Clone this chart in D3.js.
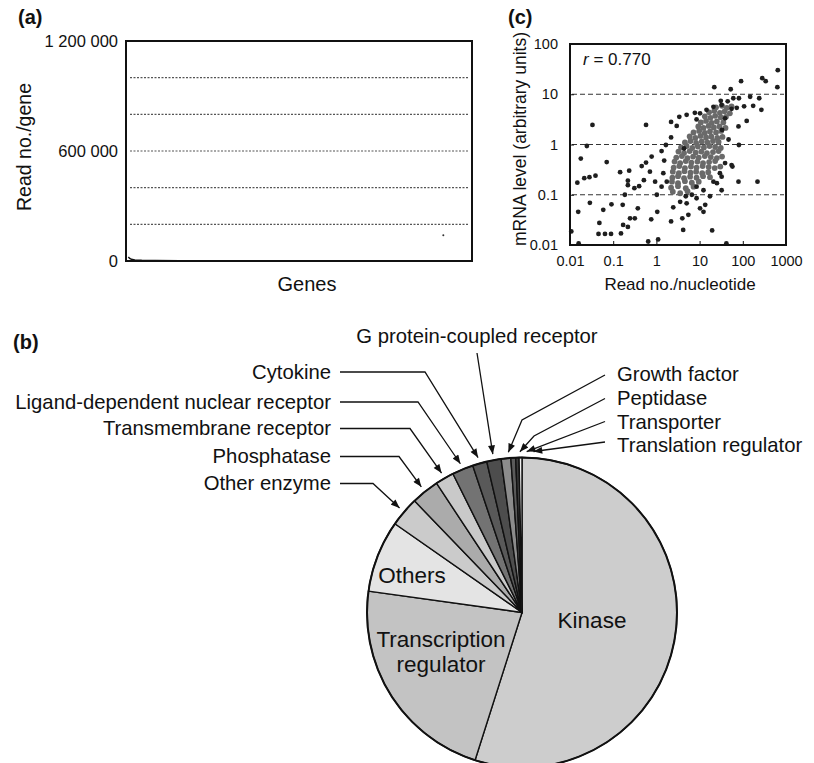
<!DOCTYPE html>
<html lang="en">
<head>
<meta charset="UTF-8">
<title>Reads per gene, gene categories and mRNA level</title>
<script src="https://d3js.org/d3.v7.min.js"></script>
<style>
  body { margin: 0; background: #fff; }
  svg { display: block; font-family: "Liberation Sans", Arial, Helvetica, sans-serif; }
</style>
</head>
<body>
<div id="chart"></div>
<script>
// ---------- data ----------
// (a) reads per gene, genes ranked by read number
const geneRank = [1, 5, 10, 20, 40, 80, 150, 300, 600, 1000];
const geneReads = [22000, 14000, 9000, 6000, 4000, 2500, 1500, 900, 500, 200];
const geneOutlier = [922, 140000];
const readTicks = [0, 600000, 1200000];
const readGrid = [200000, 400000, 600000, 800000, 1000000];

// (b) share of genes per category (%), clockwise from 12 o'clock
const categories = ["Kinase", "Transcription regulator", "Others", "Other enzyme", "Phosphatase",
  "Transmembrane receptor", "Ligand-dependent nuclear receptor", "Cytokine",
  "G protein-coupled receptor", "Growth factor", "Peptidase", "Transporter", "Translation regulator"];
const categoryShare = [54.9, 22.3, 7.5, 3.1, 2.9, 1.95, 2.2, 1.5, 1.5, 1.0, 0.5, 0.35, 0.3];
const categoryFill = ["#cdcdcd", "#c3c3c3", "#e4e4e4", "#cbcbcb", "#ababab", "#c9c9c9",
  "#737373", "#595959", "#4d4d4d", "#8c8c8c", "#5a5a5a", "#3a3a3a", "#f0f0f0"];

// (c) [log10 read no./nucleotide, log10 mRNA level]
const outlierLog10 = [[2.81,1.48],[2.80,1.14],[2.45,1.32],[2.53,1.26],[1.96,1.26],[2.43,0.69],[2.38,0.92],
  [2.17,0.95],[1.34,1.14],[1.72,1.10],[1.78,0.92],[1.91,0.92],[2.09,0.47],[1.90,0.36],[1.91,-0.01],
  [1.76,-0.44],[2.34,-0.74],[1.90,-0.74],[1.51,-0.91],[1.29,-1.71],[0.62,-1.70],[0.04,-1.89],[-0.19,-1.93],
  [-1.48,0.39],[-1.61,-0.03],[-1.75,-0.28],[-1.83,-0.76],[-1.67,-0.67],[-1.55,-0.65],[-1.41,-0.62],
  [-1.54,-1.16],[-1.81,-1.34],[-1.15,-0.35],[-0.84,-0.55],[-0.63,-0.52],[-1.04,-1.19],[-1.23,-1.30],
  [-1.32,-1.56],[-1.34,-1.78],[-1.19,-1.78],[-1.05,-1.78],[-0.82,-1.77],[-0.77,-1.60],[-0.66,-1.64],
  [-0.61,-1.47],[-0.50,-1.47],[-0.43,-1.27],[-0.78,-1.20],[-0.73,-1.00],[-0.66,-0.81],[-0.66,-0.72],
  [-0.51,-0.87],[-0.40,-0.83],[-0.29,-0.71],[-0.34,-0.43],[-0.24,-0.36],[-0.11,-0.24],[-0.24,0.39],
  [-0.15,-0.54],[-0.03,-0.74],[0.01,-1.00],[0.12,-0.84],[0.02,-1.34],[-0.12,-1.49],[0.34,-1.53],
  [0.39,-1.25],[0.16,-0.57],[0.24,-0.74],[0.12,-0.13],[0.18,-0.32],[0.22,-0.01],[0.34,0.14],[0.34,0.45],
  [0.47,0.37],[0.53,0.55],[0.70,0.59],[0.64,-0.08],[0.60,-1.47],[0.74,-1.40],[1.01,-1.27],[1.09,-1.34],
  [1.13,-1.20],[1.24,-1.03],[0.93,-1.07],[0.82,-1.00],[0.68,-1.03],[0.55,-1.14],[0.70,-1.17],[0.93,-0.84],
  [1.09,-0.91],[1.47,-0.57],[1.74,-0.41],[1.51,-0.64],[1.40,-0.77],[1.32,-0.74],[1.59,-0.37],[1.67,0.10],
  [1.52,0.29],[1.59,0.52],[1.74,0.71],[1.51,0.79],[1.32,0.75],[1.16,0.69],[1.01,0.62],[0.89,0.63],
  [0.93,0.50],[1.49,0.87],[1.65,0.86],[1.86,0.73],[2.03,0.76],[2.24,0.77],[-1.97,-1.73],[-1.80,-1.97],
  [1.62,-1.97]];
const coreLog10 = [[1.38,0.74],[1.52,0.77],[1.63,0.73],[1.74,0.76],
  [1.22,0.64],[1.34,0.67],[1.47,0.63],[1.58,0.66],[1.70,0.62],
  [1.12,0.56],[1.25,0.53],[1.36,0.57],[1.49,0.54],[1.61,0.55],
  [1.03,0.44],[1.15,0.47],[1.28,0.43],[1.40,0.46],[1.55,0.44],
  [0.97,0.36],[1.09,0.33],[1.21,0.37],[1.33,0.34],[1.46,0.36],[1.60,0.33],
  [0.86,0.24],[0.99,0.27],[1.12,0.23],[1.24,0.26],[1.38,0.24],[1.50,0.27],
  [0.77,0.16],[0.90,0.13],[1.02,0.17],[1.15,0.14],[1.27,0.16],[1.41,0.13],[1.53,0.15],
  [0.66,0.04],[0.79,0.07],[0.92,0.03],[1.05,0.06],[1.18,0.04],[1.31,0.07],[1.44,0.05],
  [0.57,-0.06],[0.70,-0.03],[0.83,-0.07],[0.96,-0.04],[1.10,-0.06],[1.23,-0.03],[1.36,-0.05],[1.49,-0.07],
  [0.51,-0.14],[0.64,-0.17],[0.77,-0.13],[0.91,-0.16],[1.04,-0.14],[1.17,-0.17],[1.31,-0.15],[1.44,-0.13],
  [0.46,-0.26],[0.59,-0.23],[0.72,-0.27],[0.85,-0.24],[0.98,-0.26],[1.12,-0.23],[1.26,-0.25],[1.40,-0.27],[1.52,-0.24],
  [0.42,-0.34],[0.55,-0.37],[0.68,-0.33],[0.81,-0.36],[0.95,-0.34],[1.08,-0.37],[1.22,-0.35],[1.36,-0.33],
  [0.40,-0.46],[0.53,-0.43],[0.66,-0.47],[0.80,-0.44],[0.93,-0.46],[1.07,-0.43],[1.21,-0.45],[1.35,-0.47],[1.48,-0.44],
  [0.38,-0.54],[0.52,-0.57],[0.65,-0.53],[0.79,-0.56],[0.92,-0.54],[1.06,-0.57],[1.20,-0.55],
  [0.37,-0.66],[0.50,-0.63],[0.64,-0.67],[0.78,-0.64],[0.93,-0.66],[1.08,-0.63],[1.24,-0.65],
  [0.36,-0.74],[0.50,-0.77],[0.66,-0.73],[0.82,-0.76],[0.98,-0.74],
  [0.34,-0.86],[0.50,-0.83],[0.68,-0.87],[0.86,-0.84],
  [0.38,-0.94],[0.55,-0.97],[0.72,-0.93]];
const logTicks = [0.01, 0.1, 1, 10, 100, 1000];
const logGrid = [0.1, 1, 10];
const correlation = "0.770";

// ---------- layout ----------
const W = 814, H = 763;
const svg = d3.select("#chart").append("svg").attr("width", W).attr("height", H);

svg.append("defs").append("marker")
  .attr("id", "arrow")
  .attr("viewBox", "0 0 10 8")
  .attr("refX", 10).attr("refY", 4)
  .attr("markerWidth", 10).attr("markerHeight", 7)
  .attr("markerUnits", "userSpaceOnUse")
  .attr("orient", "auto")
  .append("path").attr("d", "M0,0 L10,4 L0,8 Z").attr("fill", "#111");

function panelLetter(txt, x, y) {
  svg.append("text").attr("x", x).attr("y", y).text(txt)
    .attr("font-size", 20).attr("font-weight", "bold").attr("fill", "#111");
}

function cleanAxis(g, size) {
  g.attr("font-size", null).attr("font-family", null);
  g.select(".domain").remove();
  g.selectAll("text").attr("font-size", size).attr("fill", "#111");
  g.selectAll("line").attr("stroke", "#111");
}

// ---------- (a) ----------
const xa = d3.scaleLinear().domain([0, 1000]).range([128, 470]);
const ya = d3.scaleLinear().domain([0, 1200000]).range([261, 41]);

panelLetter("(a)", 18, 24);

svg.append("g").selectAll("line").data(readGrid).enter().append("line")
  .attr("x1", 130).attr("x2", 469)
  .attr("y1", d => ya(d)).attr("y2", d => ya(d))
  .attr("stroke", "#555").attr("stroke-width", 1.2).attr("stroke-dasharray", "2,1.5");

svg.append("path")
  .datum(geneRank.map((r, i) => [r, geneReads[i]]))
  .attr("fill", "none").attr("stroke", "#111").attr("stroke-width", 1.5)
  .attr("d", d3.line().x(d => xa(d[0])).y(d => ya(d[1])));

svg.append("circle").attr("cx", xa(geneOutlier[0])).attr("cy", ya(geneOutlier[1]))
  .attr("r", 1).attr("fill", "#333");

svg.append("rect").attr("x", 126).attr("y", 41).attr("width", 346).attr("height", 220)
  .attr("fill", "none").attr("stroke", "#111").attr("stroke-width", 2);

const axA = svg.append("g").attr("transform", "translate(126,0)")
  .call(d3.axisLeft(ya).tickValues(readTicks).tickSize(0).tickPadding(8)
    .tickFormat(d => d3.format(",")(d).replace(/,/g, " ")));
cleanAxis(axA, "16.5px");

svg.append("text").attr("transform", "translate(31,147) rotate(-90)")
  .attr("text-anchor", "middle").attr("font-size", "19.5px").attr("fill", "#111")
  .text("Read no./gene");
svg.append("text").attr("x", 307).attr("y", 291).attr("text-anchor", "middle")
  .attr("font-size", "20px").attr("fill", "#111").text("Genes");

// ---------- (c) ----------
const xc = d3.scaleLog().domain([0.01, 1000]).range([570, 786]);
const yc = d3.scaleLog().domain([0.01, 100]).range([245, 44]);

panelLetter("(c)", 508, 24);

svg.append("g").selectAll("line").data(logGrid).enter().append("line")
  .attr("x1", 572).attr("x2", 784)
  .attr("y1", d => yc(d)).attr("y2", d => yc(d))
  .attr("stroke", "#333").attr("stroke-width", 1).attr("stroke-dasharray", "5,3");

const toValue = d => [Math.pow(10, d[0]), Math.pow(10, d[1])];

svg.append("g").selectAll("circle").data(coreLog10.map(toValue)).enter().append("circle")
  .attr("cx", d => xc(d[0])).attr("cy", d => yc(d[1])).attr("r", 2.9).attr("fill", "#6a6a6a");

svg.append("g").selectAll("circle").data(outlierLog10.map(toValue)).enter().append("circle")
  .attr("cx", d => xc(d[0])).attr("cy", d => yc(d[1])).attr("r", 2.4).attr("fill", "#1e1e1e");

svg.append("rect").attr("x", 570).attr("y", 44).attr("width", 216).attr("height", 201)
  .attr("fill", "none").attr("stroke", "#111").attr("stroke-width", 2);

const axCx = svg.append("g").attr("transform", "translate(0,245)")
  .call(d3.axisBottom(xc).tickValues(logTicks).tickSize(-4).tickPadding(11).tickFormat(d => String(d)));
cleanAxis(axCx, "14.5px");
const axCy = svg.append("g").attr("transform", "translate(570,0)")
  .call(d3.axisLeft(yc).tickValues(logTicks.slice(0, 5)).tickSize(-4).tickPadding(12).tickFormat(d => String(d)));
cleanAxis(axCy, "14.5px");

svg.append("text").attr("transform", "translate(526,139) rotate(-90)")
  .attr("text-anchor", "middle").attr("font-size", "17.5px").attr("fill", "#111")
  .text("mRNA level (arbitrary units)");
svg.append("text").attr("x", 680).attr("y", 290).attr("text-anchor", "middle")
  .attr("font-size", "17px").attr("fill", "#111").text("Read no./nucleotide");

const rText = svg.append("text").attr("x", 583).attr("y", 65).attr("font-size", "17px").attr("fill", "#111");
rText.append("tspan").attr("font-style", "italic").text("r");
rText.append("tspan").text(" = " + correlation);

// ---------- (b) ----------
panelLetter("(b)", 13, 349);

const cx = 522, cy = 612.5, R = 155;
const slices = d3.pie().sort(null).value(d => d.share)(
  categories.map((c, i) => ({ name: c, share: categoryShare[i], fill: categoryFill[i] })));

const pieG = svg.append("g").attr("transform", `translate(${cx},${cy})`);
pieG.selectAll("path").data(slices).enter().append("path")
  .attr("d", d3.arc().innerRadius(0).outerRadius(R))
  .attr("fill", d => d.data.fill)
  .attr("stroke", "#111").attr("stroke-width", 1.4).attr("stroke-linejoin", "round");
pieG.append("circle").attr("r", R).attr("fill", "none").attr("stroke", "#111").attr("stroke-width", 2);

// labels inside the pie
const inside = [
  { text: ["Kinase"], x: 592, y: [628] },
  { text: ["Others"], x: 412, y: [583] },
  { text: ["Transcription", "regulator"], x: 441, y: [647, 672] }
];
inside.forEach(l => l.text.forEach((t, i) => {
  svg.append("text").attr("x", l.x).attr("y", l.y[i]).attr("text-anchor", "middle")
    .attr("font-size", "22.5px").attr("fill", "#111").text(t);
}));

// callout labels: text position, leader start / bend, small tip shift
const callouts = {
  "Cytokine": { tx: 331, ty: 378.5, anchor: "end", path: [[340, 372], [425, 372]] },
  "Ligand-dependent nuclear receptor": { tx: 331, ty: 408.5, anchor: "end", path: [[340, 402], [418, 402]] },
  "Transmembrane receptor": { tx: 331, ty: 435, anchor: "end", path: [[340, 428.5], [410, 428.5]] },
  "Phosphatase": { tx: 331, ty: 463, anchor: "end", path: [[340, 456.5], [399, 456.5]] },
  "Other enzyme": { tx: 331, ty: 490, anchor: "end", path: [[340, 483.5], [373, 483.5]] },
  "G protein-coupled receptor": { tx: 477, ty: 343, anchor: "middle", path: [[477, 353]] },
  "Growth factor": { tx: 617, ty: 381, anchor: "start", path: [[605, 375], [522, 420]], shift: 3 },
  "Peptidase": { tx: 617, ty: 405, anchor: "start", path: [[605, 398.5], [534, 436]], shift: 7 },
  "Transporter": { tx: 617, ty: 428.5, anchor: "start", path: [[605, 421.5]], shift: 9.5 },
  "Translation regulator": { tx: 617, ty: 452, anchor: "start", path: [[605, 442]], shift: 13 }
};

const tipArc = d3.arc().innerRadius(R + 6).outerRadius(R + 6);
slices.forEach(s => {
  const c = callouts[s.data.name];
  if (!c) return;
  const tip = tipArc.centroid(s);
  const pts = c.path.concat([[cx + tip[0] + (c.shift || 0), cy + tip[1]]]);
  svg.append("path")
    .attr("d", d3.line()(pts))
    .attr("fill", "none").attr("stroke", "#111").attr("stroke-width", 1.3)
    .attr("marker-end", "url(#arrow)");
  svg.append("text").attr("x", c.tx).attr("y", c.ty).attr("text-anchor", c.anchor)
    .attr("font-size", "20.3px").attr("fill", "#111").text(s.data.name);
});
</script>
</body>
</html>
